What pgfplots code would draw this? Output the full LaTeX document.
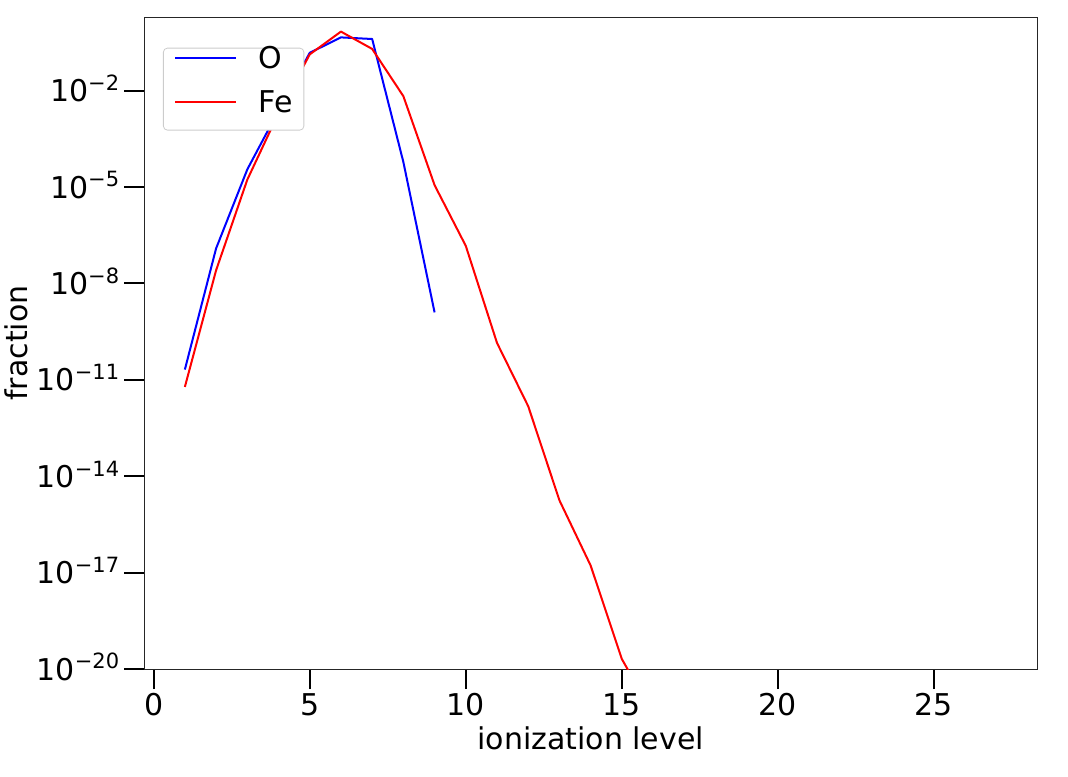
\documentclass[border=0pt]{standalone}
\usepackage{fontspec}
\setmainfont{DejaVu Sans}
\usepackage{pgfplots}
\pgfplotsset{compat=1.18}
\newcommand{\tn}{\fontsize{15}{18}\selectfont}
\newcommand{\sx}[1]{10\raisebox{0.37em}{\fontsize{10.5}{12}\selectfont #1}}
\begin{document}
\begin{tikzpicture}
\begin{axis}[
  scale only axis, width=446.35pt, height=326pt,
  ymode=log, xmin=-0.3, xmax=28.3, ymin=1e-20, ymax=1.97,
  axis line style={black!85, line width=0.45pt},
  tick align=outside, xtick pos=bottom, ytick pos=left,
  major tick length=10pt, tick style={black, line width=1pt},
  minor tick num=0, yminorticks=false, xminorticks=false,
  xtick={0,5,10,15,20,25},
  ytick={1e-20,1e-17,1e-14,1e-11,1e-8,1e-5,1e-2},
  yticklabels={\sx{−20},\sx{−17},\sx{−14},\sx{−11},\sx{−8},\sx{−5},\sx{−2}},
  /pgf/number format/assume math mode=true,
  ticklabel style={font=\tn},
  xticklabel style={inner ysep=2.15pt},
  yticklabel style={anchor=base east, yshift=-5.5pt, inner xsep=2.35pt},
  label style={font=\tn},
  xlabel={ionization level}, ylabel={fraction},
  xlabel style={at={(axis description cs:0.5,-0.1232)}, anchor=base},
  ylabel style={at={(axis description cs:-0.1432,0.5)}, anchor=center},
  legend style={at={(axis description cs:0.02095,0.8259)}, anchor=south west,
    draw=black!20, fill=white,
    rounded corners=2pt, font=\tn, inner xsep=5.5pt, inner ysep=3.75pt,
    row sep=10.5pt, column sep=10.7pt,
    nodes={inner sep=0pt, text height=6.25pt, text depth=5.25pt}},
  legend cell align=left,
  legend image code/.code={\draw[#1] (0pt,4.8pt) -- (30.5pt,4.8pt);},
  every axis plot/.append style={line width=1pt, line join=round},
]
\addplot[blue] coordinates {
  (1,2.09e-11) (2,1.23e-7) (3,3.55e-5) (4,2.40e-3) (5,0.151)
  (6,0.457) (7,0.407) (8,6.03e-5) (9,1.26e-9)
};
\addlegendentry{O}
\addplot[red] coordinates {
  (1,6.03e-12) (2,2.57e-8) (3,1.70e-5) (4,2.0e-3) (5,0.135)
  (6,0.692) (7,0.200) (8,6.76e-3) (9,1.15e-5) (10,1.48e-7)
  (11,1.41e-10) (12,1.51e-12) (13,1.78e-15) (14,1.66e-17)
  (15,2.04e-20) (16,3.98e-22)
};
\addlegendentry{Fe}
\coordinate (bl) at (rel axis cs:0,0);
\coordinate (tr) at (rel axis cs:1,1);
\end{axis}
\pgfresetboundingbox
\useasboundingbox ([xshift=-72.15pt,yshift=-54pt]bl) rectangle ([xshift=15.5pt,yshift=8.5pt]tr);
\end{tikzpicture}
\end{document}
